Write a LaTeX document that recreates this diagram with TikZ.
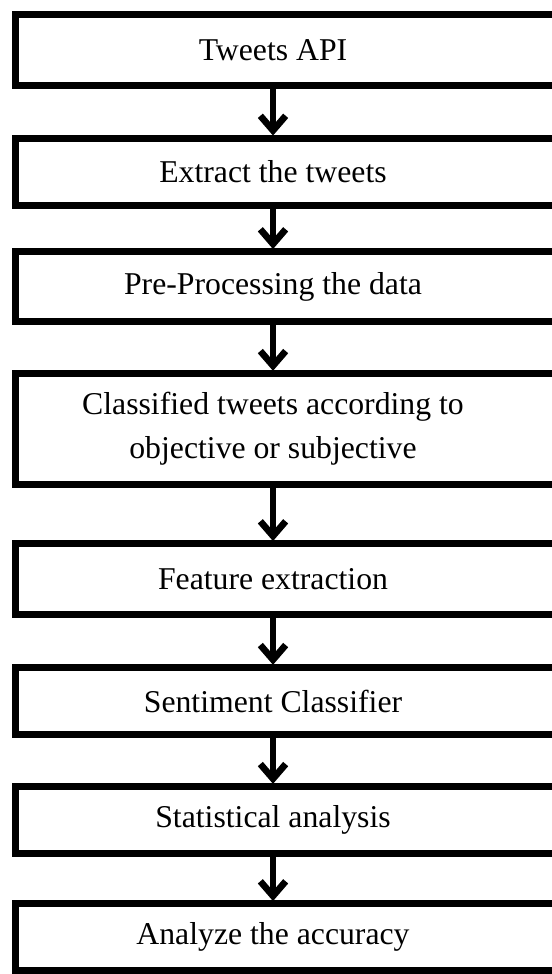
\documentclass[tikz,border=0pt]{standalone}
\usepackage{fontspec}
\setmainfont{Liberation Serif}
\usetikzlibrary{arrows.meta,calc}

\begin{document}
\begin{tikzpicture}[
  x=0.75pt, y=-0.75pt,
  stepbox/.style={draw=none, inner sep=0pt, align=center,
    font=\fontsize{23.8pt}{33pt}\selectfont},
  frame/.style={draw=black, line width=5.2pt},
  flow/.style={draw=black, line width=5pt,
    -{Straight Barb[length=11pt, width=19pt, line width=5pt]}, shorten >=2pt}
]
\useasboundingbox (0,0) rectangle (552,974);
\clip (0,0) rectangle (552,974);
\fill[white] (0,0) rectangle (552,974);

% process steps (text centred on the arrow column)
\node[stepbox, minimum height=70.5*0.75pt] (n1) at (273,50)    {Tweets API};
\node[stepbox, minimum height=67*0.75pt]   (n2) at (273,172)   {Extract the tweets};
\node[stepbox, minimum height=69*0.75pt]   (n3) at (273,286.5) {Pre-Processing the data};
\node[stepbox, minimum height=110.5*0.75pt](n4) at (273,429)   {Classified tweets according to\\objective or subjective};
\node[stepbox, minimum height=70*0.75pt]   (n5) at (273,579)   {Feature extraction};
\node[stepbox, minimum height=66.5*0.75pt] (n6) at (273,701)   {Sentiment Classifier};
\node[stepbox, minimum height=66.5*0.75pt] (n7) at (273,820)   {Statistical analysis};
\node[stepbox, minimum height=66*0.75pt]   (n8) at (273,937)   {Analyze the accuracy};

% frames: left edge at the margin, right edge running past the page
\foreach \n in {n1,n2,n3,n4,n5,n6,n7,n8}{
  \draw[frame] ($(\n.north)+(-257.5,0)$) rectangle ($(\n.south)+(330,0)$);
}

% connectors
\draw[flow] (n1.south) -- (n2.north);
\draw[flow] (n2.south) -- (n3.north);
\draw[flow] (n3.south) -- (n4.north);
\draw[flow] (n4.south) -- (n5.north);
\draw[flow] (n5.south) -- (n6.north);
\draw[flow] (n6.south) -- (n7.north);
\draw[flow] (n7.south) -- (n8.north);
\end{tikzpicture}
\end{document}
